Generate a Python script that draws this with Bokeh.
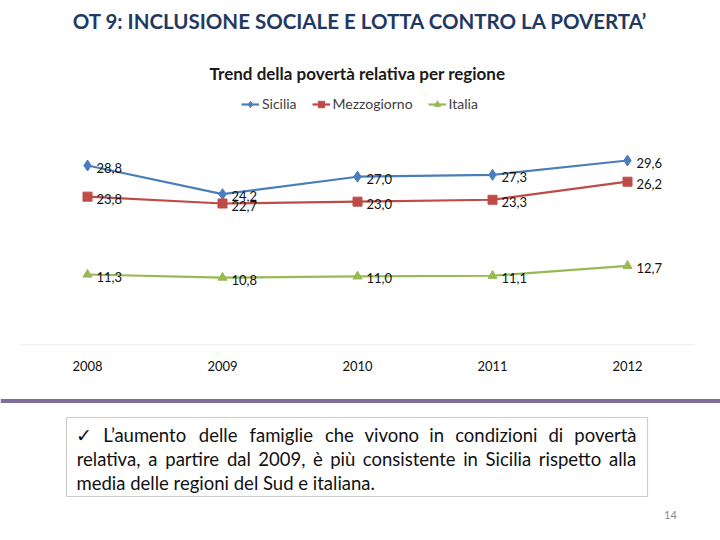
from bokeh.plotting import figure
from bokeh.models import (Label, BoxAnnotation, Legend, LegendItem,
                          Range1d, ColumnDataSource)
from bokeh.core.properties import value
from bokeh.embed import file_html
from bokeh.resources import INLINE

# ---------------- data ----------------
years = [2008, 2009, 2010, 2011, 2012]
tick_labels = ["2008", "2009", "2010", "2011", "2012"]
sicilia = [28.8, 24.2, 27.0, 27.3, 29.6]
mezzogiorno = [23.8, 22.7, 23.0, 23.3, 26.2]
italia = [11.3, 10.8, 11.0, 11.1, 12.7]
series_names = ["Sicilia", "Mezzogiorno", "Italia"]

slide_title = "OT 9: INCLUSIONE SOCIALE E LOTTA CONTRO LA POVERTA\u2019"
chart_title = "Trend della povert\u00e0 relativa per regione"
note_lines = [
    "\u2713 L\u2019aumento delle famiglie che vivono in condizioni di povert\u00e0",
    "relativa, a partire dal 2009, \u00e8 pi\u00f9 consistente in Sicilia rispetto alla",
    "media delle regioni del Sud e italiana.",
]
page_number = "14"

# ---------------- layout ----------------
W, H = 720, 540
PX_PER_YEAR = 135.0
PX_PER_UNIT = 6.229
X_FIRST_PX = 87.0      # pixel of first year
Y_ZERO_PX = 344.4      # pixel of value 0
X0 = years[0] - X_FIRST_PX / PX_PER_YEAR
X1 = X0 + W / PX_PER_YEAR
Y1 = Y_ZERO_PX / PX_PER_UNIT
Y0 = Y1 - H / PX_PER_UNIT
FONT = "Lato"

p = figure(width=W, height=H, output_backend="svg", toolbar_location=None,
           x_range=Range1d(X0, X1), y_range=Range1d(Y0, Y1),
           x_axis_location=None, y_axis_location=None,
           min_border=0)
p.outline_line_color = None
p.xgrid.visible = False
p.ygrid.visible = False
p.background_fill_color = "white"
p.border_fill_color = "white"


# helpers: picture pixel -> data coordinates
def dx(px):
    return X0 + px / W * (X1 - X0)


def dy(py):
    return Y1 - py / H * (Y1 - Y0)


# category axis (line at value 0, labels below)
p.line([years[0] - 0.5, years[-1] + 0.5], [0, 0], line_color="#ececec", line_width=1)
p.text(x=years, y=[dy(365)] * len(years), text=tick_labels, text_align="center",
       text_baseline="middle", text_font=value(FONT), text_font_size="13px",
       text_color="#111111")

# ---------------- series ----------------
styles = [
    (sicilia, "#4A7EBB", "diamond", 11),
    (mezzogiorno, "#BE4B48", "square", 9),
    (italia, "#98B954", "triangle", 9),
]
items = []
for name, (vals, col, mk, sz) in zip(series_names, styles):
    src = ColumnDataSource(dict(x=years, y=vals,
                                lab=[f"{v:.1f}".replace(".", ",") for v in vals]))
    ln = p.line("x", "y", source=src, line_color=col, line_width=2.2)
    sc = p.scatter("x", "y", source=src, marker=mk, size=sz,
                   fill_color=col, line_color=col)
    p.text("x", "y", text="lab", source=src, x_offset=9, y_offset=2,
           text_baseline="middle", text_align="left",
           text_font=value(FONT), text_font_size="13px", text_color="#111111")
    items.append(LegendItem(label=name, renderers=[ln, sc]))

legend = Legend(items=items, orientation="horizontal", location=(241, 428),
                background_fill_alpha=0, border_line_color=None,
                padding=2, margin=0, spacing=15, glyph_width=18,
                glyph_height=16, label_height=16, label_standoff=3,
                label_text_font=FONT, label_text_font_size="14px",
                label_text_color="#404040")
p.add_layout(legend, "center")

# ---------------- titles ----------------
p.add_layout(Label(x=dx(360), y=dy(20), text=slide_title, text_align="center",
                   text_baseline="middle", text_font=FONT,
                   text_font_style="bold", text_font_size="20.5px",
                   text_color="#1F3864"))
p.add_layout(Label(x=dx(357), y=dy(73), text=chart_title, text_align="center",
                   text_baseline="middle", text_font=FONT,
                   text_font_style="bold", text_font_size="17px",
                   text_color="#1a1a1a"))

# purple divider
p.add_layout(BoxAnnotation(left=dx(0), right=dx(720), top=dy(398.5), bottom=dy(402.5),
                           fill_color="#7E6E98", fill_alpha=1, line_color=None))

# text box
p.add_layout(BoxAnnotation(left=dx(66), right=dx(647), top=dy(417), bottom=dy(496),
                           fill_alpha=0, line_color="#5a5a5a", line_width=1.2))

CW = {}
for ch in "bdeghnopqu":
    CW[ch] = 0.55
for ch in "ckvxyz":
    CW[ch] = 0.49
CW.update({"a": 0.51, "s": 0.42, "r": 0.36, "t": 0.35, "f": 0.32, "i": 0.24,
           "l": 0.24, "j": 0.24, "m": 0.84, "w": 0.77, ",": 0.21, ".": 0.21,
           "\u2019": 0.21, " ": 0.19, "\u00e0": 0.51, "\u00e8": 0.53,
           "\u00f9": 0.55, "L": 0.50, "S": 0.51, "\u2713": 0.78})
for ch in "0123456789":
    CW[ch] = 0.58
FS = 18.5


def wwidth(w):
    return sum(CW.get(c, 0.55) for c in w) * FS


TL, TR = 76, 636
line_y = [434, 458, 482]
for i, (line, yy) in enumerate(zip(note_lines, line_y)):
    if i < 2:
        words = line.split(" ")
        widths = [wwidth(w) for w in words]
        gap = (TR - TL - sum(widths)) / (len(words) - 1)
        xpos = TL
        for w, wd in zip(words, widths):
            p.add_layout(Label(x=dx(xpos + wd / 2), y=dy(yy), text=w,
                               text_align="center", text_baseline="middle",
                               text_font=FONT, text_font_size=f"{FS}px",
                               text_color="#111111"))
            xpos += wd + gap
    else:
        p.add_layout(Label(x=dx(TL), y=dy(yy), text=line, text_align="left",
                           text_baseline="middle", text_font=FONT,
                           text_font_size=f"{FS}px", text_color="#111111"))

p.add_layout(Label(x=dx(670), y=dy(514), text=page_number, text_align="center",
                   text_baseline="middle", text_font=FONT, text_font_size="11px",
                   text_color="#8c8c8c"))

open("out.html", "w").write(file_html(p, INLINE))
